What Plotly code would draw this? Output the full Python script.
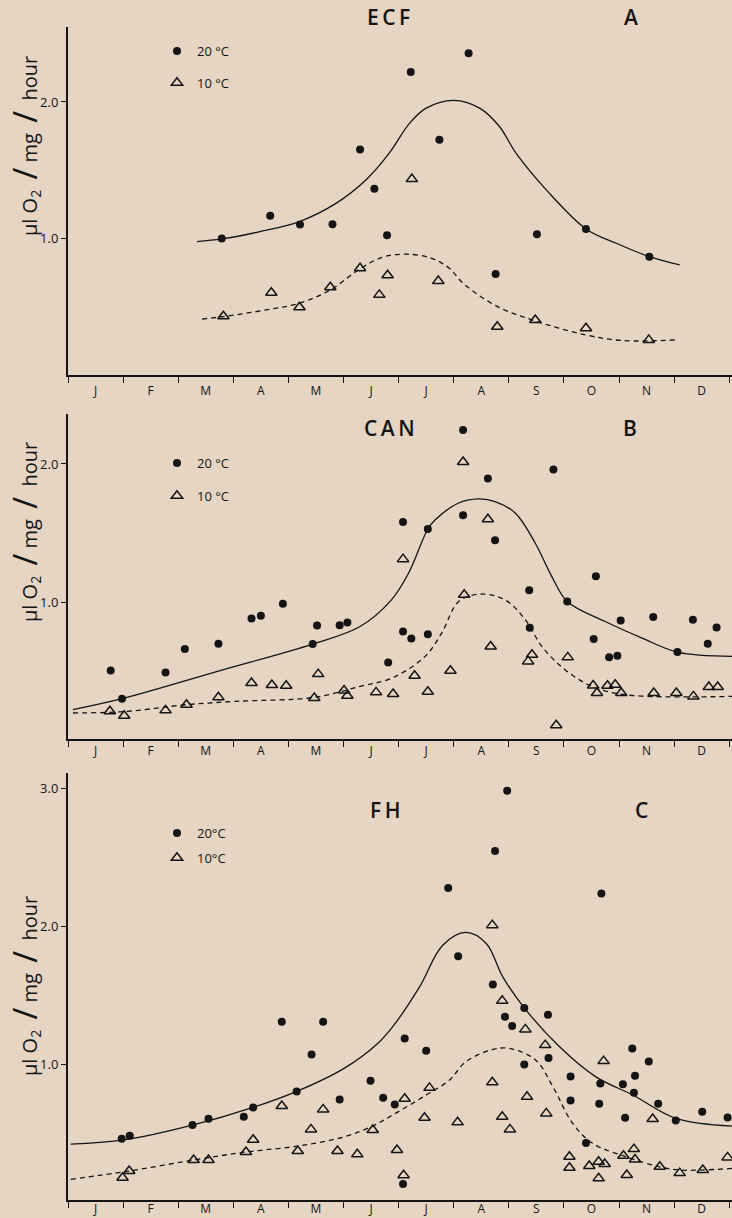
import plotly.graph_objects as go

# ---------------- data ----------------
MONTHS = ["J", "F", "M", "A", "M", "J", "J", "A", "S", "O", "N", "D"]
MONTH_CENTRES = [i + 0.5 for i in range(12)]
MONTH_BOUNDS = list(range(13))

# Panel A  (ECF)
A_20_month = [2.79, 3.67, 4.21, 4.80, 5.30, 5.56, 5.79, 6.22, 6.74, 7.27, 7.76, 8.51, 9.40, 10.55]
A_20_value = [1.00, 1.166, 1.102, 1.105, 1.652, 1.364, 1.024, 2.219, 1.723, 2.356, 0.74, 1.031, 1.07, 0.867]
A_10_month = [2.82, 3.69, 4.20, 4.76, 5.30, 5.65, 5.80, 6.24, 6.72, 7.79, 8.48, 9.40, 10.54]
A_10_value = [0.43, 0.603, 0.496, 0.643, 0.782, 0.587, 0.731, 1.435, 0.689, 0.354, 0.403, 0.342, 0.257]
A_fit20_month = [2.34, 2.79, 3.48, 4.20, 4.87, 5.41, 5.83, 6.20, 6.50, 7.00, 7.47, 7.83, 8.13, 8.68, 9.40, 9.95, 10.55, 11.10]
A_fit20_value = [0.977, 0.997, 1.05, 1.124, 1.259, 1.43, 1.625, 1.845, 1.955, 2.012, 1.955, 1.82, 1.625, 1.356, 1.07, 0.965, 0.867, 0.806]
A_fit10_month = [2.43, 2.82, 3.60, 4.20, 4.76, 5.29, 5.71, 6.14, 6.60, 6.92, 7.17, 7.77, 8.48, 9.40, 10.07, 11.04]
A_fit10_value = [0.41, 0.428, 0.477, 0.526, 0.623, 0.775, 0.863, 0.885, 0.855, 0.782, 0.672, 0.506, 0.396, 0.293, 0.252, 0.257]

# Panel B  (CAN)
B_20_month = [0.775, 0.98, 1.77, 2.12, 2.73, 3.33, 3.50, 3.90, 4.44, 4.52, 4.93, 5.07, 5.81, 6.08, 6.08, 6.23,
              6.53, 6.53, 7.17, 7.17, 7.62, 7.75, 8.81, 8.37, 8.38, 9.06, 9.58, 9.54, 9.82, 9.97, 10.03, 10.62,
              11.06, 11.34, 11.61, 11.77]
B_20_value = [0.508, 0.303, 0.493, 0.662, 0.70, 0.883, 0.902, 0.989, 0.698, 0.833, 0.835, 0.854, 0.565, 1.58,
              0.789, 0.739, 1.53, 0.770, 2.245, 1.63, 1.894, 1.449, 1.959, 1.088, 0.816, 1.006, 1.189, 0.734,
              0.602, 0.614, 0.869, 0.893, 0.640, 0.874, 0.700, 0.818]
B_10_month = [0.76, 1.02, 1.77, 2.15, 2.73, 3.33, 3.70, 3.96, 4.47, 4.54, 5.01, 5.07, 5.59, 5.90, 6.08, 6.29,
              6.53, 6.94, 7.17, 7.19, 7.62, 7.67, 8.35, 8.42, 9.07, 8.86, 9.53, 9.60, 9.79, 9.93, 10.04, 10.63,
              11.04, 11.35, 11.63, 11.79]
B_10_value = [0.212, 0.180, 0.219, 0.260, 0.313, 0.417, 0.402, 0.397, 0.308, 0.481, 0.363, 0.325, 0.349, 0.337,
              1.312, 0.469, 0.354, 0.505, 2.014, 1.054, 1.60, 0.681, 0.573, 0.621, 0.602, 0.111, 0.399, 0.344,
              0.397, 0.404, 0.344, 0.344, 0.344, 0.320, 0.388, 0.388]
B_fit20_month = [0.09, 0.98, 2.73, 4.44, 5.30, 5.87, 6.18, 6.53, 6.66, 7.08, 7.45, 7.75, 8.12, 8.48, 8.78, 9.06,
                 9.75, 10.42, 11.06, 12.05]
B_fit20_value = [0.224, 0.303, 0.503, 0.698, 0.825, 1.018, 1.21, 1.53, 1.595, 1.716, 1.747, 1.728, 1.644, 1.427,
                 1.186, 1.006, 0.861, 0.741, 0.640, 0.609]
B_fit10_month = [0.09, 1.02, 2.15, 3.05, 4.47, 5.30, 5.88, 6.48, 6.78, 7.09, 7.48, 7.93, 8.30, 8.60, 9.02, 9.51,
                 10.11, 12.05]
B_fit10_value = [0.20, 0.21, 0.26, 0.284, 0.313, 0.392, 0.453, 0.609, 0.777, 1.006, 1.059, 1.018, 0.874, 0.681,
                 0.513, 0.392, 0.332, 0.32]

# Panel C  (FH)
C_20_month = [0.975, 1.12, 2.26, 2.55, 3.19, 3.36, 3.88, 4.15, 4.42, 4.63, 4.93, 5.49, 5.72, 5.93, 6.11, 6.08,
              6.50, 6.90, 7.08, 7.71, 7.75, 7.97, 7.93, 8.06, 8.28, 8.71, 8.28, 8.72, 9.12, 9.12, 9.40, 9.68,
              9.66, 9.64, 10.07, 10.24, 10.29, 10.27, 10.11, 10.54, 10.71, 11.03, 11.51, 11.97]
C_20_value = [0.461, 0.483, 0.56, 0.606, 0.62, 0.688, 1.31, 0.804, 1.072, 1.31, 0.746, 0.881, 0.758, 0.71, 1.188,
              0.133, 1.099, 2.28, 1.785, 1.58, 2.548, 2.985, 1.345, 1.278, 1.41, 1.36, 1.0, 1.046, 0.913, 0.739,
              0.43, 2.239, 0.862, 0.715, 0.857, 1.116, 0.917, 0.794, 0.613, 1.022, 0.715, 0.594, 0.657, 0.616]
C_10_month = [0.99, 1.11, 2.28, 2.55, 3.23, 3.36, 3.88, 4.17, 4.41, 4.63, 4.89, 5.25, 5.53, 5.97, 6.09, 6.11,
              6.47, 6.56, 7.07, 7.70, 7.70, 7.88, 7.88, 8.02, 8.30, 8.33, 8.66, 8.68, 9.10, 9.10, 9.46, 9.63,
              9.63, 9.74, 9.72, 10.08, 10.14, 10.27, 10.29, 10.61, 10.74, 11.10, 11.52, 11.97]
C_10_value = [0.178, 0.227, 0.307, 0.307, 0.365, 0.454, 0.698, 0.372, 0.529, 0.674, 0.372, 0.348, 0.524, 0.379,
              0.196, 0.751, 0.613, 0.83, 0.58, 2.01, 0.87, 1.461, 0.62, 0.529, 1.254, 0.765, 1.14, 0.645, 0.33,
              0.251, 0.263, 0.294, 0.174, 0.278, 1.024, 0.338, 0.198, 0.386, 0.311, 0.604, 0.258, 0.212, 0.234,
              0.326]
C_fit20_month = [0.05, 0.975, 2.26, 3.36, 4.15, 5.01, 5.62, 5.89, 6.38, 6.80, 7.22, 7.59, 7.89, 8.28, 8.92, 9.58,
                 10.25, 11.03, 12.06]
C_fit20_value = [0.422, 0.451, 0.56, 0.688, 0.804, 0.971, 1.152, 1.272, 1.562, 1.864, 1.957, 1.877, 1.635, 1.41,
                 1.128, 0.91, 0.778, 0.609, 0.553]
C_fit10_month = [0.05, 1.11, 2.28, 3.23, 4.17, 5.01, 5.53, 5.89, 6.50, 6.92, 7.22, 7.71, 8.01, 8.49, 8.80, 9.16,
                 9.52, 10.13, 10.73, 11.10, 12.06]
C_fit10_value = [0.167, 0.227, 0.307, 0.365, 0.408, 0.475, 0.553, 0.633, 0.778, 0.886, 1.019, 1.109, 1.116, 1.031,
                 0.838, 0.572, 0.428, 0.33, 0.258, 0.234, 0.246]

PANELS = [
    dict(code="E\u2009C\u2009F", letter="A", p20=(A_20_month, A_20_value), p10=(A_10_month, A_10_value),
         f20=(A_fit20_month, A_fit20_value), f10=(A_fit10_month, A_fit10_value),
         yticks=[1.0, 2.0], top=27, bottom=375, yrange=[0.0, 2.549],
         code_x=388, letter_x=631, title_y=17, ytitle_y=146, leg_top=36, leg_gap=12,
         lab20="20 °C", lab10="10 °C", standoff=4),
    dict(code="C\u2009A\u2009N", letter="B", p20=(B_20_month, B_20_value), p10=(B_10_month, B_10_value),
         f20=(B_fit20_month, B_fit20_value), f10=(B_fit10_month, B_fit10_value),
         yticks=[1.0, 2.0], top=414, bottom=739, yrange=[0.012, 2.361],
         code_x=389, letter_x=630, title_y=428, ytitle_y=532, leg_top=448, leg_gap=13,
         lab20="20 °C", lab10="10 °C", standoff=0),
    dict(code="F\u2009H", letter="C", p20=(C_20_month, C_20_value), p10=(C_10_month, C_10_value),
         f20=(C_fit20_month, C_fit20_value), f10=(C_fit10_month, C_fit10_value),
         yticks=[1.0, 2.0, 3.0], top=773, bottom=1200, yrange=[0.017, 3.113],
         code_x=385, letter_x=641, title_y=810, ytitle_y=986, leg_top=818, leg_gap=5,
         lab20="20°C", lab10="10°C", standoff=-3),
]

# ---------------- layout helpers ----------------
W, H = 732, 1218
ML, MR, MT, MB = 68, 0, 0, 18
PW, PH = W - ML - MR, H - MT - MB
INK = "#141414"
BG = "#e5d5c2"
FONT = "Open Sans, DejaVu Sans, sans-serif"
NB = "\u00a0"
SLASH = "<span style='font-size:32px'>/</span>"
YTITLE = f"µl{NB}O<sub>2</sub>{NB}{NB}{SLASH}{NB}mg{NB}{NB}{SLASH}{NB}{NB}hour"


def fx(px):
    return (px - ML) / PW


def fy(py):
    return 1 - (py - MT) / PH


fig = go.Figure()
annotations = []

for i, p in enumerate(PANELS, start=1):
    xa = "x" if i == 1 else f"x{i}"
    ya = "y" if i == 1 else f"y{i}"
    leg = "legend" if i == 1 else f"legend{i}"

    fig.add_trace(go.Scatter(x=p["f20"][0], y=p["f20"][1], mode="lines", xaxis=xa, yaxis=ya,
                             line=dict(color=INK, width=1.3, shape="spline", smoothing=1.0),
                             showlegend=False, hoverinfo="skip"))
    fig.add_trace(go.Scatter(x=p["f10"][0], y=p["f10"][1], mode="lines", xaxis=xa, yaxis=ya,
                             line=dict(color=INK, width=1.3, shape="spline", smoothing=1.0, dash="5px,4px"),
                             showlegend=False, hoverinfo="skip"))
    fig.add_trace(go.Scatter(x=p["p20"][0], y=p["p20"][1], mode="markers", xaxis=xa, yaxis=ya,
                             name=p["lab20"], legend=leg, legendgroup=f"g20_{i}",
                             marker=dict(symbol="circle", size=8, color=INK), cliponaxis=False))
    fig.add_trace(go.Scatter(x=p["p10"][0], y=p["p10"][1], mode="markers", xaxis=xa, yaxis=ya,
                             name=p["lab10"], legend=leg, legendgroup=f"g10_{i}",
                             marker=dict(symbol="triangle-up-open", size=10, color=INK,
                                         line=dict(width=1.5, color=INK)), cliponaxis=False))

    dom = [fy(p["bottom"]), fy(p["top"])]
    xkey = "xaxis" if i == 1 else f"xaxis{i}"
    ykey = "yaxis" if i == 1 else f"yaxis{i}"
    fig.layout[xkey] = dict(
        domain=[0, 1], anchor=ya, range=[0, 12.05], tickmode="array", automargin=False,
        tickvals=MONTH_CENTRES, ticktext=MONTHS, ticks="", showgrid=False, zeroline=False,
        showline=True, linecolor=INK, linewidth=2,
        tickfont=dict(family=FONT, size=12, color=INK), ticklabelstandoff=p["standoff"],
        minor=dict(tickmode="array", tickvals=MONTH_BOUNDS, ticks="outside", ticklen=6,
                   tickwidth=1.3, tickcolor=INK, showgrid=False),
    )
    fig.layout[ykey] = dict(
        domain=dom, anchor=xa, range=p["yrange"], tickmode="array", automargin=False,
        tickvals=p["yticks"], ticktext=[f"{v:.1f}" for v in p["yticks"]],
        ticks="outside", ticklen=5, tickwidth=1.3, tickcolor=INK, showgrid=False, zeroline=False,
        showline=True, linecolor=INK, linewidth=2,
        tickfont=dict(family=FONT, size=13, color=INK),
    )
    fig.layout[leg] = dict(
        x=fx(157), y=fy(p["leg_top"]), xanchor="left", yanchor="top",
        bgcolor="rgba(0,0,0,0)", borderwidth=0, traceorder="grouped",
        tracegroupgap=p["leg_gap"], font=dict(family=FONT, size=13, color=INK),
        itemclick=False, itemdoubleclick=False,
    )

    annotations.append(dict(text=p["code"], x=fx(p["code_x"]),
                            y=fy(p["title_y"]), xref="paper", yref="paper", showarrow=False,
                            xanchor="center", yanchor="middle",
                            font=dict(family=FONT, size=21, color=INK, weight=600)))
    annotations.append(dict(text=p["letter"], x=fx(p["letter_x"]),
                            y=fy(p["title_y"]), xref="paper", yref="paper", showarrow=False,
                            xanchor="center", yanchor="middle",
                            font=dict(family=FONT, size=21, color=INK, weight=600)))
    annotations.append(dict(text=YTITLE, x=fx(24), y=fy(p["ytitle_y"]),
                            xref="paper", yref="paper", showarrow=False, textangle=-90,
                            xanchor="center", yanchor="middle",
                            font=dict(family=FONT, size=20, color=INK)))

fig.update_layout(
    width=W, height=H, margin=dict(l=ML, r=MR, t=MT, b=MB, pad=0, autoexpand=False),
    paper_bgcolor=BG, plot_bgcolor=BG, annotations=annotations,
    font=dict(family=FONT, color=INK),
)

fig.write_html(
    "out.html",
    config={"displayModeBar": False},
    post_script="document.body.style.margin='0px';document.body.style.overflow='hidden';"
                "document.documentElement.style.overflow='hidden';",
)
